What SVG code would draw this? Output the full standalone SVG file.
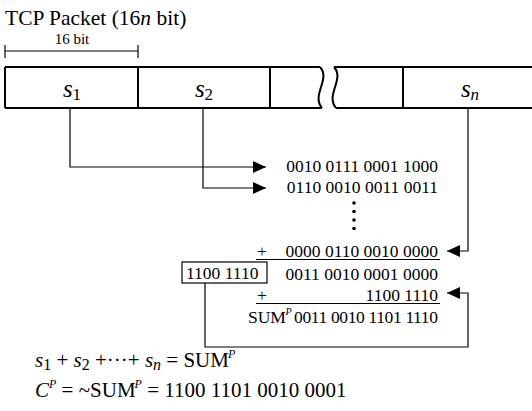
<svg xmlns="http://www.w3.org/2000/svg" width="532" height="411" viewBox="0 0 532 411">
<style>
text{font-family:"Liberation Serif","Times New Roman",serif;fill:#000}
.t{font-size:21.5px}
.lb{font-size:15px}
.cell{font-size:25px}
.sub{font-size:17px;font-style:normal}
.num{font-size:17.5px}
.eq{font-size:21px}
.i{font-style:italic}
.box{fill:none;stroke:#000;stroke-width:2}
.ln{fill:none;stroke:#000;stroke-width:1.2}
.ul{stroke:#000;stroke-width:1}
</style>
<defs>
<marker id="ah" viewBox="0 0 13 12" refX="13" refY="6" markerWidth="13" markerHeight="12" markerUnits="userSpaceOnUse" orient="auto">
<path d="M0,0 L13,6 L0,12 Z" fill="#000"/>
</marker>
</defs>
<g id="title"><text class="t" x="5" y="25">TCP Packet (16<tspan class="i">n</tspan> bit)</text></g>
<g id="ruler">
<line class="ln" x1="5" y1="51" x2="138" y2="51"/>
<line class="ln" x1="5" y1="45" x2="5" y2="58"/>
<line class="ln" x1="138" y1="45" x2="138" y2="58"/>
<text class="lb" x="72" y="44" text-anchor="middle">16 bit</text>
</g>
<g id="packet">
<path class="box" d="M5,67 H320 M334,67 H532 M5,108 H322 M336,108 H532 M5,67 V108 M138,67 V108 M270,67 V108 M403,67 V108"/>
<path class="box" d="M320,67 C331,79 311,95 322,108"/>
<path class="box" d="M334,67 C345,79 325,95 336,108"/>
</g>
<g id="s1"><text class="cell" x="72" y="97" text-anchor="middle"><tspan class="i">s</tspan><tspan class="sub" dy="3">1</tspan></text></g>
<g id="s2"><text class="cell" x="204" y="97" text-anchor="middle"><tspan class="i">s</tspan><tspan class="sub" dy="3">2</tspan></text></g>
<g id="sn"><text class="cell" x="470" y="97" text-anchor="middle"><tspan class="i">s</tspan><tspan class="sub i" dy="3">n</tspan></text></g>
<g id="connectors">
<path class="ln" d="M70,108 V167 H266" marker-end="url(#ah)"/>
<path class="ln" d="M203,108 V188 H266" marker-end="url(#ah)"/>
<path class="ln" d="M468,108 V251 H447" marker-end="url(#ah)"/>
<path class="ln" d="M205,283 V347 H468 V293 H447" marker-end="url(#ah)"/>
</g>
<g id="sum">
<text class="num" x="438" y="172" text-anchor="end">0010 0111 0001 1000</text>
<text class="num" x="438" y="193" text-anchor="end">0110 0010 0011 0011</text>
<circle cx="354" cy="203" r="1.8"/>
<circle cx="354" cy="211.5" r="1.8"/>
<circle cx="354" cy="220" r="1.8"/>
<circle cx="354" cy="228.5" r="1.8"/>
<text class="num" x="257" y="257">+</text>
<text class="num" x="438" y="257" text-anchor="end">0000 0110 0010 0000</text>
<line class="ul" x1="256" y1="259.5" x2="440" y2="259.5"/>
<rect x="182" y="262" width="85" height="21" fill="none" stroke="#000" stroke-width="1.2"/>
<text class="num" x="186" y="279">1100 1110</text>
<text class="num" x="438" y="280" text-anchor="end">0011 0010 0001 0000</text>
<text class="num" x="257" y="301">+</text>
<text class="num" x="438" y="301" text-anchor="end">1100 1110</text>
<line class="ul" x1="256" y1="303.5" x2="440" y2="303.5"/>
<text class="num" x="248" y="323">SUM<tspan class="i" font-size="10" dx="-0.5" dy="-8">P</tspan></text>
<text class="num" x="438" y="323" text-anchor="end" textLength="144" lengthAdjust="spacing">0011 0010 1101 1110</text>
</g>
<g id="equations">
<text class="eq" x="35" y="367"><tspan class="i">s</tspan><tspan font-size="16" dy="3">1</tspan><tspan dy="-3"> + </tspan><tspan class="i">s</tspan><tspan font-size="16" dy="3">2</tspan><tspan dy="-3"> +···+ </tspan><tspan class="i">s</tspan><tspan font-size="16" class="i" dy="3">n</tspan><tspan dy="-3"> = SUM</tspan><tspan class="i" font-size="12" dx="-1" dy="-9">P</tspan></text>
<text class="eq" x="35" y="397"><tspan class="i">C</tspan><tspan class="i" font-size="12" dy="-9">P</tspan><tspan dy="9"> = ~SUM</tspan><tspan class="i" font-size="12" dx="-1" dy="-9">P</tspan><tspan dy="9"> = 1100 1101 0010 0001</tspan></text>
</g>
</svg>
